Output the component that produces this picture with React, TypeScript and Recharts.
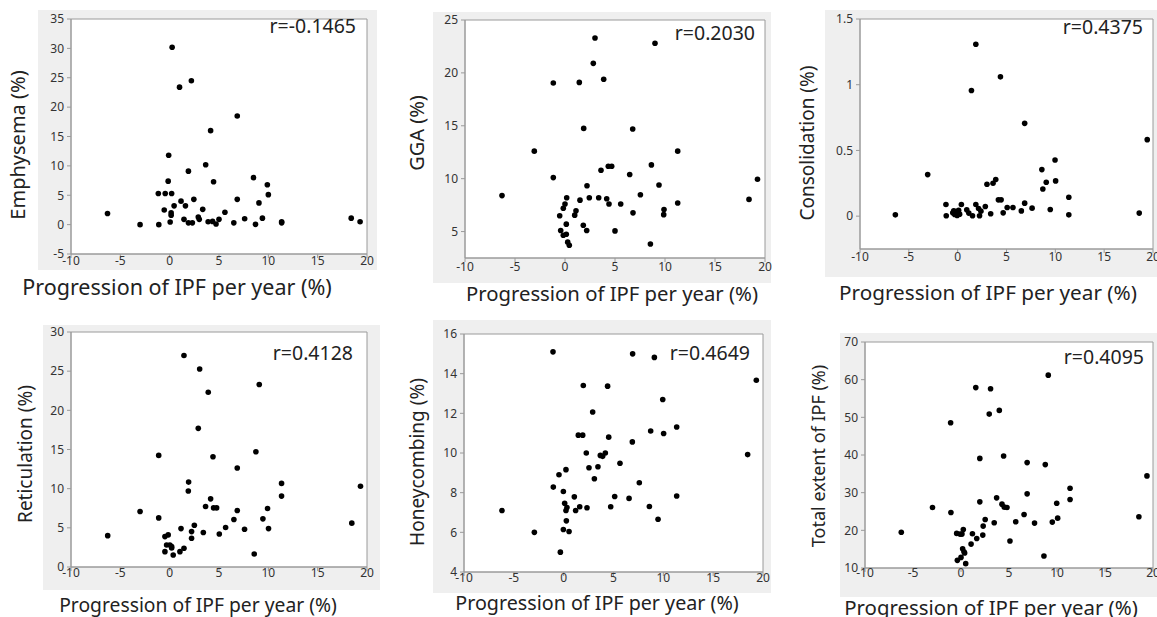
import React from "react";
import {
  ScatterChart,
  Scatter,
  XAxis,
  YAxis,
  CartesianGrid,
  ReferenceArea,
} from "recharts";

// progression of IPF per year (%) on x, each lung finding (%) on y
const xTicks = [-10, -5, 0, 5, 10, 15, 20];

const emphysema: [number, number][] = [
  [-6.3, 1.9], [-3.0, 0], [-1.1, 0], [-1.15, 5.3], [-0.45, 5.3], [0.2, 5.3],
  [-0.55, 2.5], [-0.1, 11.8], [-0.15, 7.4], [0.15, 2.0], [0.15, 1.6], [0.05, 0.45],
  [0.25, 30.2], [0.45, 3.2], [1.0, 23.4], [1.15, 4.0], [1.45, 0.9], [1.6, 3.2],
  [1.9, 9.1], [1.9, 0.3], [2.2, 24.5], [2.3, 0.3], [2.45, 4.3], [2.9, 1.3],
  [3.0, 0.9], [3.35, 2.6], [3.65, 10.2], [3.9, 0.5], [4.15, 16.0], [4.35, 0.55],
  [4.45, 7.3], [4.7, 0.1], [5.0, 0.9], [5.6, 2.1], [6.5, 0.3], [6.85, 18.5],
  [6.85, 4.3], [7.6, 1.0], [8.5, 8.0], [8.7, 0.05], [9.05, 3.7], [9.4, 1.1],
  [9.9, 6.8], [10.0, 5.1], [11.35, 0.5], [11.35, 0.3], [18.4, 1.1], [19.3, 0.5],
];

const gga: [number, number][] = [
  [-6.3, 8.4], [-3.07, 12.6], [-1.17, 19.05], [-1.17, 10.1], [-0.53, 6.5], [-0.43, 5.1],
  [-0.17, 4.65], [-0.17, 7.2], [0, 7.6], [0.17, 8.2], [0.13, 5.7], [0.13, 4.75],
  [0.27, 4.0], [0.43, 3.7], [0.97, 6.55], [1.1, 6.96], [1.43, 19.1], [1.5, 7.97],
  [1.87, 14.75], [1.83, 5.6], [2.2, 9.33], [2.17, 5.1], [2.43, 8.2], [2.83, 20.9],
  [3.0, 23.3], [3.37, 8.2], [3.6, 10.8], [3.87, 19.4], [4.17, 8.1], [4.33, 11.17],
  [4.4, 7.6], [4.67, 11.17], [5.0, 5.06], [5.57, 7.6], [6.47, 10.4], [6.77, 14.7],
  [6.8, 6.77], [7.54, 8.48], [8.54, 3.83], [8.64, 11.3], [9.0, 22.8], [9.4, 9.4],
  [9.9, 7.09], [9.87, 6.6], [11.27, 12.6], [11.27, 7.7], [18.4, 8.04], [19.25, 9.94],
];

const consolidation: [number, number][] = [
  [-6.38, 0.01], [-3.07, 0.316], [-1.2, 0.089], [-1.17, 0.003], [-0.5, 0.025], [-0.4, 0.04],
  [-0.3, 0.012], [-0.15, 0.035], [-0.05, 0.005], [0.0, 0.03], [0.05, 0.02], [0.1, 0.045],
  [0.2, 0.015], [0.38, 0.089], [0.93, 0.048], [1.14, 0.023], [1.41, 0.956], [1.52, 0.003],
  [1.86, 1.308], [1.86, 0.089], [2.14, 0.058], [2.24, 0.003], [2.38, 0.038], [2.83, 0.073],
  [3.0, 0.243], [3.38, 0.018], [3.62, 0.25], [3.9, 0.278], [4.17, 0.124], [4.38, 1.06],
  [4.45, 0.124], [4.66, 0.025], [5.07, 0.066], [5.66, 0.066], [6.52, 0.04], [6.86, 0.706],
  [6.86, 0.099], [7.62, 0.061], [8.62, 0.354], [8.72, 0.207], [9.07, 0.258], [9.48, 0.05],
  [9.97, 0.427], [10.03, 0.268], [11.38, 0.144], [11.38, 0.01], [18.59, 0.023], [19.41, 0.582],
];

const reticulation: [number, number][] = [
  [-6.28, 4.0], [-3.0, 7.08], [-1.11, 14.25], [-1.11, 6.27], [-0.48, 3.88], [-0.15, 4.1],
  [-0.31, 2.8], [0.02, 2.8], [0.2, 2.43], [-0.48, 1.96], [0.36, 1.54], [0.2, 2.6],
  [1.04, 1.96], [1.15, 4.9], [1.45, 27.0], [1.45, 2.4], [1.89, 9.7], [1.92, 10.84],
  [2.22, 3.67], [2.22, 4.52], [2.5, 5.33], [2.9, 17.7], [3.04, 25.27], [3.41, 4.4],
  [3.64, 7.73], [3.91, 22.3], [4.15, 8.7], [4.39, 14.08], [4.45, 7.55], [4.76, 7.55],
  [5.03, 4.22], [5.67, 5.04], [6.51, 6.06], [6.85, 12.63], [6.85, 7.21], [7.59, 4.82],
  [8.57, 1.66], [8.74, 14.72], [9.08, 23.3], [9.45, 6.15], [9.92, 7.47], [10.02, 4.9],
  [11.34, 10.67], [11.34, 9.05], [18.46, 5.6], [19.34, 10.3],
];

const honeycombing: [number, number][] = [
  [-6.19, 7.1], [-2.94, 6.0], [-1.07, 15.1], [-1.04, 8.28], [-0.47, 8.9], [-0.33, 5.0],
  [-0.03, 8.06], [-0.03, 6.14], [0.1, 7.47], [0.23, 9.16], [0.23, 7.1], [0.27, 6.58],
  [0.33, 7.25], [0.54, 6.04], [1.07, 7.79], [1.2, 7.1], [1.47, 10.9], [1.61, 7.29],
  [1.91, 10.9], [1.97, 13.4], [2.27, 10.0], [2.34, 7.24], [2.54, 9.26], [2.91, 12.07],
  [3.08, 8.7], [3.44, 9.31], [3.68, 9.88], [3.91, 9.83], [4.18, 10.0], [4.41, 13.37],
  [4.52, 10.8], [4.72, 7.29], [5.12, 7.81], [5.65, 9.48], [6.56, 7.71], [6.89, 10.56],
  [6.92, 15.0], [7.59, 8.5], [8.6, 7.3], [8.73, 11.11], [9.1, 14.82], [9.47, 6.66],
  [9.94, 12.7], [10.03, 10.98], [11.34, 11.31], [11.34, 7.83], [18.46, 9.92], [19.33, 13.67],
];

const totalExtent: [number, number][] = [
  [-6.22, 19.5], [-2.97, 26.06], [-1.08, 48.57], [-1.05, 24.74], [-0.45, 19.18], [-0.38, 12.03],
  [-0.1, 19.0], [0, 12.82], [0.1, 19.0], [0.17, 15.12], [0.24, 20.24], [0.31, 14.32],
  [0.38, 13.97], [0.49, 11.15], [1.05, 16.35], [1.19, 19.1], [1.54, 57.9], [1.64, 17.85],
  [1.96, 39.1], [1.96, 27.56], [2.27, 18.74], [2.31, 21.12], [2.52, 22.88], [2.94, 50.86],
  [3.08, 57.57], [3.46, 22.0], [3.71, 28.62], [3.99, 51.84], [4.27, 26.95], [4.44, 39.74],
  [4.51, 26.15], [4.79, 26.06], [5.1, 17.15], [5.7, 22.27], [6.57, 24.2], [6.89, 37.98],
  [6.89, 29.68], [7.66, 21.92], [8.64, 13.18], [8.78, 37.45], [9.09, 61.2], [9.51, 22.18],
  [9.97, 27.2], [10.07, 23.24], [11.36, 31.18], [11.36, 28.18], [18.53, 23.6], [19.37, 34.45],
];

const xTitle = "Progression of IPF per year (%)";
const FONT = "'Noto Sans', 'Open Sans', sans-serif";

type Box = { l: number; t: number; r: number; b: number };

interface PanelProps {
  points: [number, number][];
  yTitle: string;
  rText: string;
  yDomain: [number, number];
  yTicks: number[];
  plot: Box;
  bg: Box;
  xTitlePos: [number, number, number];
  yTitlePos: [number, number, number];
  rPos: [number, number];
  xTickGap: number;
}

const Dot = (props: any) => (
  <circle cx={props.cx} cy={props.cy} r={2.8} fill="#000" />
);

const Panel: React.FC<PanelProps> = ({
  points, yTitle, rText, yDomain, yTicks, plot, bg, xTitlePos, yTitlePos, rPos, xTickGap,
}) => {
  const yW = 40;
  const mTop = 10;
  const mRight = 10;
  const xH = 30;
  const w = plot.r - plot.l + yW + mRight;
  const h = plot.b - plot.t + mTop + xH;
  const data = points.map(([x, y]) => ({ x, y }));
  const tick = { fill: "#333", fontSize: 12, fontFamily: FONT };

  return (
    <>
      <div
        style={{
          position: "absolute",
          left: bg.l,
          top: bg.t,
          width: bg.r - bg.l,
          height: bg.b - bg.t,
          background: "#efefef",
        }}
      />
      <div style={{ position: "absolute", left: plot.l - yW, top: plot.t - mTop }}>
        <ScatterChart
          width={w}
          height={h}
          margin={{ top: mTop, right: mRight, bottom: 0, left: 0 }}
        >
          <CartesianGrid horizontal={false} vertical={false} fill="#fff" />
          <XAxis
            type="number"
            dataKey="x"
            domain={[-10, 20]}
            ticks={xTicks}
            interval={0}
            height={xH}
            tickSize={4}
            tickMargin={xTickGap}
            stroke="#9a9a9a"
            tick={tick}
          />
          <YAxis
            type="number"
            dataKey="y"
            domain={yDomain}
            ticks={yTicks}
            interval={0}
            width={yW}
            tickSize={4}
            tickMargin={3}
            stroke="#9a9a9a"
            tick={tick}
          />
          <ReferenceArea
            x1={-10}
            x2={20}
            y1={yDomain[0]}
            y2={yDomain[1]}
            fill="none"
            stroke="#9a9a9a"
            strokeOpacity={1}
          />
          <Scatter data={data} shape={Dot} isAnimationActive={false} />
        </ScatterChart>
      </div>
      <div
        style={{
          position: "absolute",
          left: rPos[0],
          top: rPos[1],
          transform: "translate(-100%, -50%)",
          fontFamily: FONT,
          fontSize: 19.5,
          color: "#222",
          whiteSpace: "nowrap",
          lineHeight: 1,
        }}
      >
        {rText}
      </div>
      <div
        style={{
          position: "absolute",
          left: xTitlePos[0],
          top: xTitlePos[1],
          transform: "translate(-50%, -50%)",
          fontFamily: FONT,
          fontSize: xTitlePos[2],
          color: "#222",
          whiteSpace: "nowrap",
          lineHeight: 1,
        }}
      >
        {xTitle}
      </div>
      <div
        style={{
          position: "absolute",
          left: yTitlePos[0],
          top: yTitlePos[1],
          transform: "translate(-50%, -50%) rotate(-90deg)",
          fontFamily: FONT,
          fontSize: yTitlePos[2],
          color: "#222",
          whiteSpace: "nowrap",
          lineHeight: 1,
        }}
      >
        {yTitle}
      </div>
    </>
  );
};

export default function App() {
  return (
    <div
      style={{
        position: "absolute",
        left: 0,
        top: 0,
        width: 1157,
        height: 617,
        background: "#fff",
        overflow: "hidden",
      }}
    >
      <Panel
        points={emphysema}
        yTitle="Emphysema (%)"
        rText="r=-0.1465"
        yDomain={[-5, 35]}
        yTicks={[-5, 0, 5, 10, 15, 20, 25, 30, 35]}
        plot={{ l: 71, t: 19, r: 367, b: 254 }}
        bg={{ l: 38, t: 10, r: 377, b: 270 }}
        xTitlePos={[177, 287, 21.5]}
        yTitlePos={[18, 145, 20]}
        rPos={[356, 26]}
        xTickGap={-2}
      />
      <Panel
        points={gga}
        yTitle="GGA (%)"
        rText="r=0.2030"
        yDomain={[2.5, 25]}
        yTicks={[5, 10, 15, 20, 25]}
        plot={{ l: 465, t: 20, r: 765, b: 258 }}
        bg={{ l: 433, t: 12, r: 771, b: 283 }}
        xTitlePos={[612, 293, 20.3]}
        yTitlePos={[417, 133, 20]}
        rPos={[755, 33]}
        xTickGap={0}
      />
      <Panel
        points={consolidation}
        yTitle="Consolidation (%)"
        rText="r=0.4375"
        yDomain={[-0.25, 1.5]}
        yTicks={[0, 0.5, 1, 1.5]}
        plot={{ l: 860, t: 19, r: 1153, b: 249 }}
        bg={{ l: 825, t: 10, r: 1157, b: 277 }}
        xTitlePos={[988, 292, 20.7]}
        yTitlePos={[807, 143, 19]}
        rPos={[1143, 27]}
        xTickGap={-1}
      />
      <Panel
        points={reticulation}
        yTitle="Reticulation (%)"
        rText="r=0.4128"
        yDomain={[0, 30]}
        yTicks={[0, 5, 10, 15, 20, 25, 30]}
        plot={{ l: 71, t: 332, r: 367, b: 567 }}
        bg={{ l: 43, t: 325, r: 380, b: 590 }}
        xTitlePos={[198, 605, 19.3]}
        yTitlePos={[25, 454, 19]}
        rPos={[353, 353]}
        xTickGap={-3}
      />
      <Panel
        points={honeycombing}
        yTitle="Honeycombing (%)"
        rText="r=0.4649"
        yDomain={[4, 16]}
        yTicks={[4, 6, 8, 10, 12, 14, 16]}
        plot={{ l: 464, t: 334, r: 763, b: 572 }}
        bg={{ l: 433, t: 320, r: 771, b: 593 }}
        xTitlePos={[597, 603, 19.7]}
        yTitlePos={[417, 462, 19]}
        rPos={[750, 353]}
        xTickGap={-3}
      />
      <Panel
        points={totalExtent}
        yTitle="Total extent of IPF (%)"
        rText="r=0.4095"
        yDomain={[10, 70]}
        yTicks={[10, 20, 30, 40, 50, 60, 70]}
        plot={{ l: 865, t: 342, r: 1153, b: 568 }}
        bg={{ l: 840, t: 333, r: 1157, b: 597 }}
        xTitlePos={[991, 607, 20.4]}
        yTitlePos={[818, 456, 18]}
        rPos={[1144, 357]}
        xTickGap={-4}
      />
    </div>
  );
}
